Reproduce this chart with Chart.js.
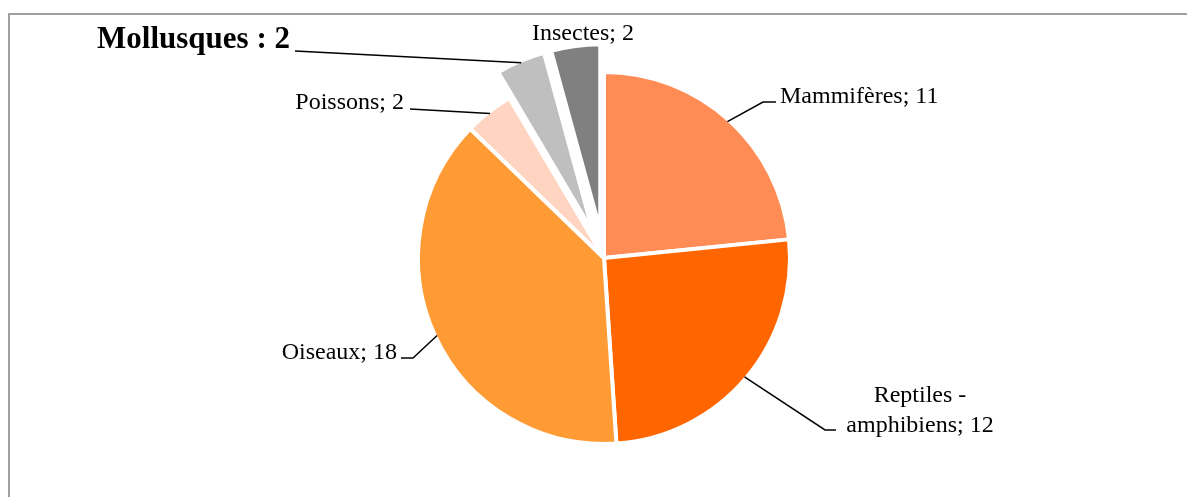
<!DOCTYPE html>
<html>
<head>
<meta charset="utf-8">
<script src="https://cdn.jsdelivr.net/npm/chart.js@4.4.1/dist/chart.umd.min.js"></script>
<style>
  html, body { margin: 0; padding: 0; background: #fff; overflow: hidden; }
  #frame {
    position: absolute; left: 8px; top: 13px; width: 1179px; height: 484px;
    box-sizing: border-box; border-left: 2px solid #a0a0a0; border-top: 2px solid #a0a0a0;
  }
  #wrap { position: absolute; left: 0; top: 0; width: 1187px; height: 497px; }
</style>
</head>
<body>
<div id="frame"></div>
<div id="wrap"><canvas id="pieChart"></canvas></div>
<script>
var categories = ['Mammifères', 'Reptiles - amphibiens', 'Oiseaux', 'Poissons', 'Mollusques', 'Insectes'];
var counts = [11, 12, 18, 2, 2, 2];
var separators = ['; ', '; ', '; ', '; ', ' : ', '; '];

var colors = ['#ff8b55', '#ff6600', '#ff9b35', '#ffd5c2', '#bfbfbf', '#808080'];
var explode = [0, 0, 0, 0, 28, 28];   // px the slice is pulled out

// label placement, relative to the pie centre
var labelLayout = [
    {elbow: [159, -156], end: [172, -156], text: [176, -155], align: 'left'},
    {elbow: [221, 172], end: [232, 172], text: [316, 144], align: 'center', wrap: 170},
    {elbow: [-191, 100], end: [-203, 100], text: [-207, 101], align: 'right'},
    {elbow: [-194, -149], end: [-194, -149], text: [-200, -149], align: 'right'},
    {elbow: [-309, -207], end: [-309, -207], text: [-314, -210], align: 'right', bold: true},
    {text: [-21, -218], align: 'center'}
];

var serif = '"Liberation Serif", "DejaVu Serif", serif';

// pull exploded slices out like Excel does: move the whole slice, same radius and angle
var pullOut = {
    id: 'pullOut',
    afterDatasetUpdate: function(chart, args) {
        chart.getDatasetMeta(args.index).data.forEach(function(arc) { arc._moved = false; });
    },
    beforeDatasetDraw: function(chart, args) {
        chart.getDatasetMeta(args.index).data.forEach(function(arc, i) {
            if (arc._moved || !explode[i]) return;
            var mid = (arc.startAngle + arc.endAngle) / 2;
            arc.x += Math.cos(mid) * explode[i];
            arc.y += Math.sin(mid) * explode[i];
            arc._moved = true;
        });
    }
};

function wrapText(ctx, text, maxW) {
    if (!maxW) return [text];
    var words = text.split(' '), lines = [], cur = '';
    words.forEach(function(w) {
        var test = cur ? cur + ' ' + w : w;
        if (cur && ctx.measureText(test).width > maxW) { lines.push(cur); cur = w; }
        else cur = test;
    });
    lines.push(cur);
    return lines;
}

var pieLabels = {
    id: 'pieLabels',
    afterDraw: function(chart) {
        var ctx = chart.ctx;
        var meta = chart.getDatasetMeta(0);
        var cx = meta.data[0].x, cy = meta.data[0].y;
        var R = meta.controller.outerRadius - 2;
        ctx.save();
        meta.data.forEach(function(arc, i) {
            var lay = labelLayout[i];
            if (lay.end) {
                var mid = (arc.startAngle + arc.endAngle) / 2;
                var r = R + explode[i];
                ctx.beginPath();
                ctx.moveTo(cx + Math.cos(mid) * r, cy + Math.sin(mid) * r);
                ctx.lineTo(cx + lay.elbow[0], cy + lay.elbow[1]);
                ctx.lineTo(cx + lay.end[0], cy + lay.end[1]);
                ctx.strokeStyle = '#000';
                ctx.lineWidth = 1.5;
                ctx.stroke();
            }
            ctx.font = lay.bold ? 'bold 31px ' + serif : '24px ' + serif;
            ctx.fillStyle = '#000';
            ctx.textAlign = lay.align;
            ctx.textBaseline = 'alphabetic';
            var text = categories[i] + separators[i] + counts[i];
            var lines = wrapText(ctx, text, lay.wrap);
            lines.forEach(function(line, k) {
                ctx.fillText(line, cx + lay.text[0], cy + lay.text[1] + k * 30);
            });
        });
        ctx.restore();
    }
};

new Chart(document.getElementById('pieChart').getContext('2d'), {
    type: 'pie',
    data: {
        labels: categories,
        datasets: [{
            data: counts,
            backgroundColor: colors,
            borderColor: '#ffffff',
            borderWidth: 4,
            radius: 186
        }]
    },
    options: {
        responsive: true,
        maintainAspectRatio: false,
        animation: false,
        events: [],
        layout: {padding: {left: 21, right: 0, top: 19, bottom: 0}},
        plugins: {
            legend: {display: false},
            tooltip: {enabled: false}
        }
    },
    plugins: [pullOut, pieLabels]
});
</script>
</body>
</html>
